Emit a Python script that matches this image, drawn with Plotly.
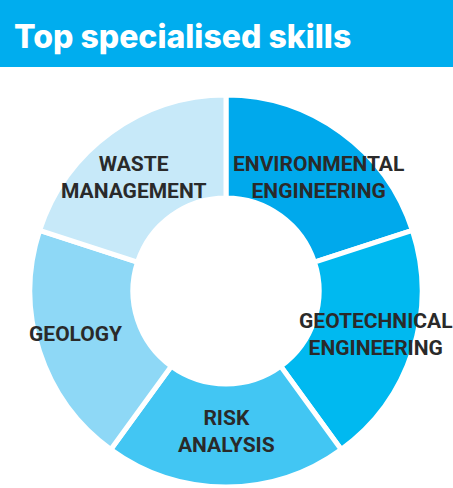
import math
import plotly.graph_objects as go

title_text = "Top specialised skills"
skills = ["ENVIRONMENTAL<br>ENGINEERING", "GEOTECHNICAL<br>ENGINEERING", "RISK<br>ANALYSIS",
          "GEOLOGY", "WASTE<br>MANAGEMENT"]
shares = [1, 1, 1, 1, 1]
colors = ["#00A9EC", "#00B9F0", "#42C6F3", "#8ED8F6", "#C7E9F9"]

W, H = 453, 488
cx, cy, R = 226, 291, 196
HOLE = 0.475

fig = go.Figure(go.Pie(
    labels=skills,
    values=shares,
    sort=False,
    direction="clockwise",
    rotation=0,
    hole=HOLE,
    marker=dict(colors=colors, line=dict(color="white", width=5)),
    textinfo="none",
    domain=dict(x=[(cx - R) / W, (cx + R) / W], y=[1 - (cy + R) / H, 1 - (cy - R) / H]),
    showlegend=False,
    hoverinfo="label",
))

# slice labels placed at each slice's mid-angle (derived from the shares)
total = sum(shares)
cum = 0
rx, ry = 158, 140
for lab, v in zip(skills, shares):
    theta = math.radians((cum + v / 2) / total * 360)
    cum += v
    px = cx + rx * math.sin(theta)
    py = cy - ry * math.cos(theta)
    fig.add_annotation(text=lab, xref="paper", yref="paper", x=px / W, y=1 - py / H,
                       xanchor="center", yanchor="middle", showarrow=False, align="center",
                       font=dict(family="Roboto, sans-serif", size=21, color="#2a2a2a", weight="bold"))

fig.add_shape(type="rect", xref="paper", yref="paper", x0=0, x1=1, y0=1 - 67 / H, y1=1,
              fillcolor="#00ADEE", line=dict(width=0), layer="below")
fig.add_annotation(text=title_text, xref="paper", yref="paper", x=12 / W, y=1 - 37 / H,
                   xanchor="left", yanchor="middle", showarrow=False,
                   font=dict(family="Inter, Roboto, sans-serif", size=32, color="white", weight=800))

fig.update_layout(
    width=W, height=H,
    margin=dict(l=0, r=0, t=0, b=0),
    paper_bgcolor="white", plot_bgcolor="white",
)

fig.write_html("out.html", config={"displayModeBar": False},
               post_script="document.body.style.margin='0';document.body.style.overflow='hidden';")
